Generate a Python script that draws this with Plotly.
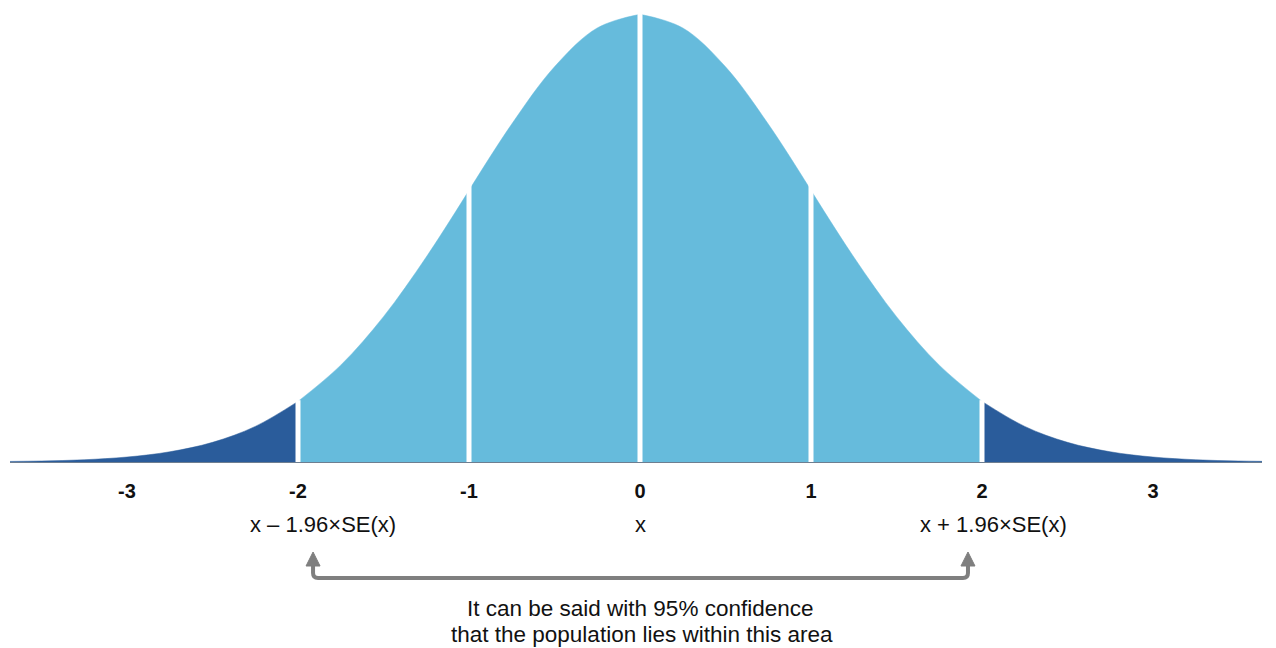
import plotly.graph_objects as go

# Values (standard normal density, step 0.25)
x_vals = [-3.75, -3.5, -3.25, -3.0, -2.75, -2.5, -2.25, -2.0, -1.75, -1.5, -1.25, -1.0,
          -0.75, -0.5, -0.25, 0.0, 0.25, 0.5, 0.75, 1.0, 1.25, 1.5, 1.75, 2.0,
          2.25, 2.5, 2.75, 3.0, 3.25, 3.5, 3.75]
density = [0.0004, 0.0009, 0.0020, 0.0044, 0.0091, 0.0175, 0.0317, 0.0540, 0.0863, 0.1295, 0.1826, 0.2420,
           0.3011, 0.3521, 0.3867, 0.3989, 0.3867, 0.3521, 0.3011, 0.2420, 0.1826, 0.1295, 0.0863, 0.0540,
           0.0317, 0.0175, 0.0091, 0.0044, 0.0020, 0.0009, 0.0004]

segment_bounds = [(-3.75, -2.0), (-2.0, -1.0), (-1.0, 0.0), (0.0, 1.0), (1.0, 2.0), (2.0, 3.75)]
segment_colors = ["#2A5C9B", "#66BBDC", "#66BBDC", "#66BBDC", "#66BBDC", "#2A5C9B"]
divider_x = [-2.0, -1.0, 0.0, 1.0, 2.0]

tick_vals = [-3, -2, -1, 0, 1, 2, 3]
tick_text = ["<b>-3</b>", "<b>-2</b>", "<b>-1</b>", "<b>0</b>", "<b>1</b>", "<b>2</b>", "<b>3</b>"]
sub_x = [-2, 0, 2]
sub_text = ["x – 1.96×SE(x)", "x", "x + 1.96×SE(x)"]
sub_shift = [25, 0, 11]
note_lines = ["It can be said with 95% confidence", "that the population lies within this area"]
bracket_x = [-1.912, 1.918]

FONT = "Liberation Sans, Arial, sans-serif"
GRAY = "#7F7F7F"

fig = go.Figure()
for (a, b), col in zip(segment_bounds, segment_colors):
    xs = [x for x in x_vals if a <= x <= b]
    ys = [d for x, d in zip(x_vals, density) if a <= x <= b]
    fig.add_trace(go.Scatter(x=xs, y=ys, mode="lines", line=dict(color=col, width=0.5, shape="spline"),
                             fill="tozeroy", fillcolor=col, hoverinfo="skip", showlegend=False))

for dx in divider_x:
    dy = density[x_vals.index(dx)]
    fig.add_trace(go.Scatter(x=[dx, dx], y=[0, dy * 1.02], mode="lines",
                             line=dict(color="white", width=5), hoverinfo="skip", showlegend=False))

def py(p):  # screen pixel row -> paper y (plot from 13 to 462 on screen)
    return (462 - p) / 449.0

for sx, st, sh in zip(sub_x, sub_text, sub_shift):
    fig.add_annotation(x=sx, xref="x", y=py(524), yref="paper", text=st, showarrow=False,
                       xshift=sh, yanchor="middle", font=dict(family=FONT, size=22, color="#111111"))

for i, line in enumerate(note_lines):
    fig.add_annotation(x=0, xref="x", y=py(608 + 26 * i), yref="paper", text=line, showarrow=False,
                       xshift=i * 2, yanchor="middle", font=dict(family=FONT, size=22.5, color="#111111"))

# bracket arrow
xl, xr = bracket_x
r = 5 / 171.0
path = (f"M {xl},{py(564)} L {xl},{py(573)} Q {xl},{py(578)} {xl + r},{py(578)} "
        f"L {xr - r},{py(578)} Q {xr},{py(578)} {xr},{py(573)} L {xr},{py(564)}")
fig.add_shape(type="path", xref="x", yref="paper", path=path, line=dict(color=GRAY, width=4))
hw = 7 / 171.0
for bx in bracket_x:
    tri = f"M {bx - hw},{py(566)} L {bx},{py(552)} L {bx + hw},{py(566)} Z"
    fig.add_shape(type="path", xref="x", yref="paper", path=tri, line=dict(color=GRAY, width=1),
                  fillcolor=GRAY)

# page body has an 8px margin, so the figure starts at (8, 8) on screen
fig.update_layout(
    width=1268, height=640,
    margin=dict(l=2, r=14, t=5, b=186),
    plot_bgcolor="white", paper_bgcolor="white",
    xaxis=dict(range=[-630 / 171.0, 622 / 171.0], tickvals=tick_vals, ticktext=tick_text,
               showgrid=False, zeroline=False, showline=True, linecolor="#6E7E90", linewidth=1,
               layer="below traces", ticks="", ticklabelstandoff=11,
               tickfont=dict(family=FONT, size=20, color="#111111")),
    yaxis=dict(range=[0, 0.4], visible=False, showgrid=False, zeroline=False),
    showlegend=False,
)

fig.write_html("out.html")
